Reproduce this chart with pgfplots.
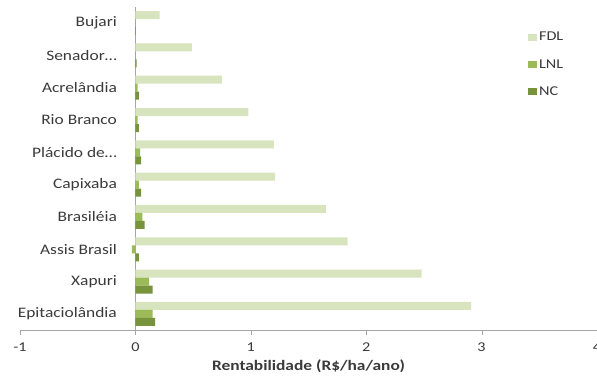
\documentclass[border=0pt]{standalone}
\usepackage{pgfplots}
\pgfplotsset{compat=1.18}
\usepackage{fontspec}
\setmainfont[FakeStretch=1.2]{Carlito}
\definecolor{fdl}{HTML}{D7E4BD}
\definecolor{lnl}{HTML}{9BBB59}
\definecolor{nc}{HTML}{77933C}
\definecolor{txt}{HTML}{3A3A3A}
\definecolor{axgray}{HTML}{A6A6A6}
\begin{document}
\begin{tikzpicture}
\begin{axis}[
  at={(0,0)}, anchor=south west,
  scale only axis, width=577pt, height=323pt,
  xbar, bar width=8pt,
  xmin=-1, xmax=4, ymin=-0.5, ymax=9.5,
  axis x line=bottom, axis y line=middle, axis line style={-},
  x axis line style={draw=axgray},
  y axis line style={draw=axgray},
  xtick={-1,0,1,2,3,4}, ytick={0,1,2,3,4,5,6,7,8,9},
  yticklabels={Epitaciolândia, Xapuri, Assis Brasil, Brasiléia, Capixaba, Plácido de…, Rio Branco, Acrelândia, Senador…, Bujari},
  tick align=outside, major tick length=5pt,
  xtick style={draw=axgray},
  ytick style={draw=none},
  /pgf/number format/assume math mode=true,
  xticklabel style={font=\fontsize{13.5}{15}\selectfont, text=txt, yshift=-4pt},
  yticklabel style={font=\fontsize{14.5}{16}\selectfont, text=txt, xshift=-10pt},
  xlabel={Rentabilidade (R\$/ha/ano)},
  xlabel style={font=\bfseries\fontsize{14.5}{16}\selectfont, text=txt, at={(rel axis cs:0.5,0)}, anchor=center, yshift=-36pt},
  legend style={at={(0.875,0.935)}, anchor=north west, draw=none, fill=none,
    font=\fontsize{13.5}{15}\selectfont, text=txt, row sep=13pt},
  legend cell align=left,
  legend image code/.code={\draw[#1,draw=none] (0pt,-3.5pt) rectangle (9pt,3.5pt);},
]
\addplot[fill=fdl, draw=none, bar shift=8pt] coordinates {
 (2.91,0) (2.48,1) (1.84,2) (1.65,3) (1.21,4) (1.20,5) (0.98,6) (0.75,7) (0.49,8) (0.21,9)};
\addplot[fill=lnl, draw=none, bar shift=0pt] coordinates {
 (0.15,0) (0.12,1) (-0.03,2) (0.06,3) (0.03,4) (0.04,5) (0.02,6) (0.02,7) (0.005,8) (0.003,9)};
\addplot[fill=nc, draw=none, bar shift=-8pt] coordinates {
 (0.17,0) (0.15,1) (0.03,2) (0.08,3) (0.05,4) (0.05,5) (0.03,6) (0.03,7) (0.01,8) (0.005,9)};
\legend{FDL, LNL, NC}
\end{axis}
\pgfresetboundingbox
\path[use as bounding box] (-20pt,-50pt) rectangle (577pt,330pt);
\end{tikzpicture}
\end{document}
